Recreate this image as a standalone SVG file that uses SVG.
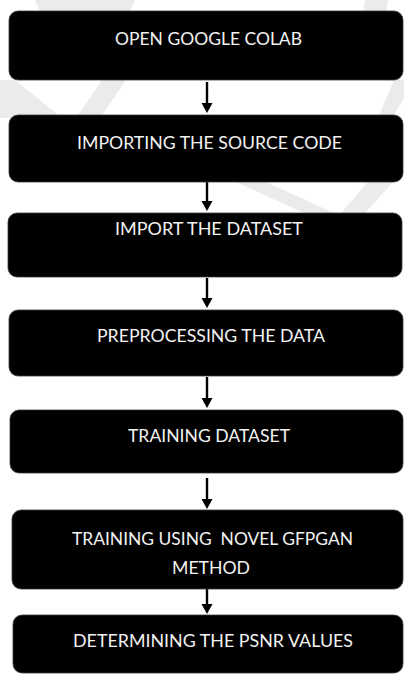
<svg xmlns="http://www.w3.org/2000/svg" width="404" height="675" viewBox="0 0 404 675">
  <style>
    .box { fill: #000; stroke: #3a3a3a; stroke-width: 0.8; }
    .lbl { fill: #f2f2f2; font-family: Lato, "Open Sans", "DejaVu Sans", sans-serif; font-size: 18px; text-anchor: middle; }
    .wm { fill: #ebebeb; }
    .edge { stroke: #000; stroke-width: 2.4; fill: none; }
  </style>

  <rect width="404" height="675" fill="#fff"/>

  <!-- faint background mark -->
  <g id="backdrop">
    <polygon class="wm" points="35,0 135,0 130,12 40,12"/>
    <polygon class="wm" points="365,0 388,0 386,12 363,12"/>
    <polygon class="wm" points="0,80 15,80 62,118 0,118"/>
    <polygon class="wm" points="102,80 126,80 100,118 76,118"/>
    <polygon class="wm" points="394,80 404,80 404,98 392,118 378,118"/>
    <polygon class="wm" points="236,182 266,182 336,214 306,214"/>
    <polygon class="wm" points="368,182 393,182 364,214 340,214"/>
  </g>

  <!-- connectors: shafts, then heads -->
  <g id="connectors">
    <g class="edge">
      <line x1="207" y1="82" x2="207" y2="104"/>
      <line x1="207" y1="182" x2="207" y2="202"/>
      <line x1="207" y1="278" x2="207" y2="299"/>
      <line x1="207" y1="377" x2="207" y2="399"/>
      <line x1="207" y1="478" x2="207" y2="500"/>
      <line x1="207" y1="589" x2="207" y2="605"/>
    </g>
    <g fill="#000">
      <polygon points="201.5,103 212.5,103 207,113"/>
      <polygon points="201.5,201 212.5,201 207,211"/>
      <polygon points="201.5,298 212.5,298 207,308"/>
      <polygon points="201.5,398 212.5,398 207,408"/>
      <polygon points="201.5,499 212.5,499 207,509"/>
      <polygon points="201.5,604 212.5,604 207,614"/>
    </g>
  </g>

  <g id="open-colab">
    <rect class="box" x="9" y="11" width="394" height="69" rx="9"/>
    <text class="lbl" x="208.5" y="45" textLength="187" lengthAdjust="spacingAndGlyphs">OPEN GOOGLE COLAB</text>
  </g>
  <g id="import-code">
    <rect class="box" x="9" y="115" width="394" height="67" rx="9"/>
    <text class="lbl" x="209.5" y="148.5" textLength="265" lengthAdjust="spacingAndGlyphs">IMPORTING THE SOURCE CODE</text>
  </g>
  <g id="import-dataset">
    <rect class="box" x="8" y="213" width="394" height="64" rx="9"/>
    <text class="lbl" x="209" y="234.5" textLength="188" lengthAdjust="spacingAndGlyphs">IMPORT THE DATASET</text>
  </g>
  <g id="preprocess">
    <rect class="box" x="9" y="310" width="394" height="66" rx="9"/>
    <text class="lbl" x="211" y="341.5" textLength="228" lengthAdjust="spacingAndGlyphs">PREPROCESSING THE DATA</text>
  </g>
  <g id="training-dataset">
    <rect class="box" x="10" y="410" width="393" height="63" rx="9"/>
    <text class="lbl" x="209" y="441.5" textLength="162" lengthAdjust="spacingAndGlyphs">TRAINING DATASET</text>
  </g>
  <g id="gfpgan-training">
    <rect class="box" x="12" y="510" width="391" height="79" rx="9"/>
    <text class="lbl" x="212.5" y="544.5" textLength="281" lengthAdjust="spacingAndGlyphs" xml:space="preserve">TRAINING USING  NOVEL GFPGAN</text>
    <text class="lbl" x="211" y="573.5" textLength="78" lengthAdjust="spacingAndGlyphs">METHOD</text>
  </g>
  <g id="psnr">
    <rect class="box" x="13" y="615" width="390" height="58" rx="9"/>
    <text class="lbl" x="213" y="646.5" textLength="280" lengthAdjust="spacingAndGlyphs">DETERMINING THE PSNR VALUES</text>
  </g>
</svg>
